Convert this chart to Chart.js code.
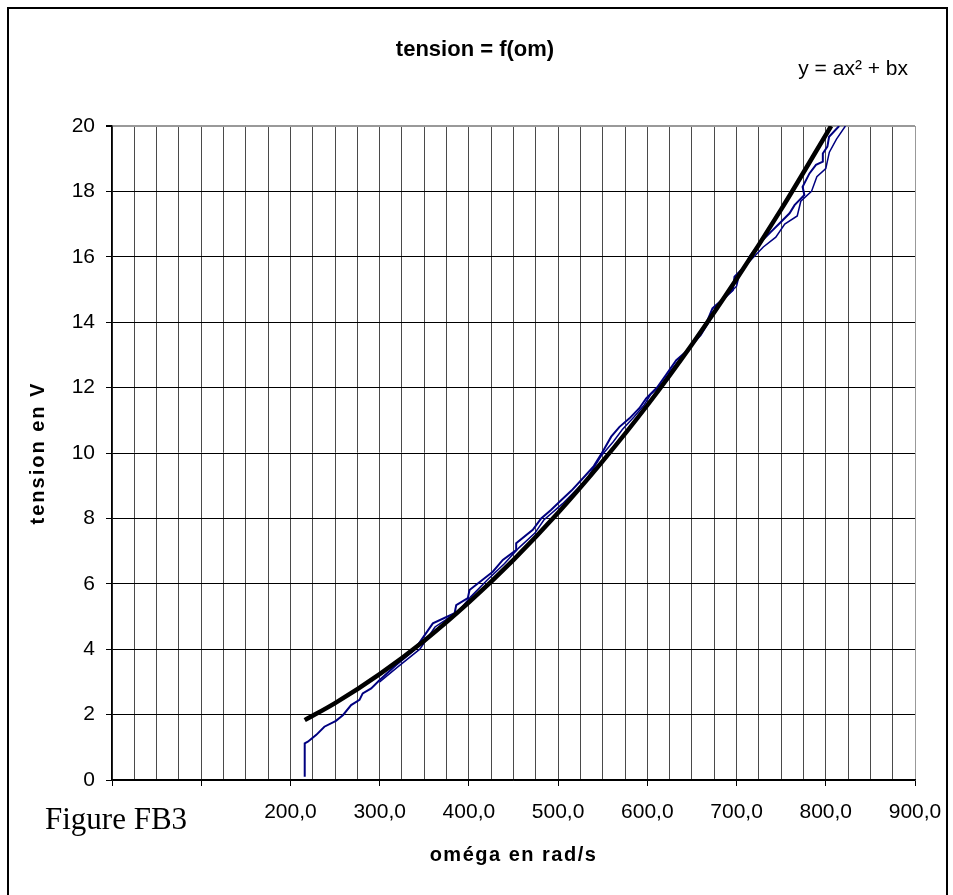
<!DOCTYPE html>
<html>
<head>
<meta charset="utf-8">
<script src="https://cdn.jsdelivr.net/npm/chart.js@4.4.0/dist/chart.umd.min.js"></script>
<style>
  html, body { margin: 0; padding: 0; background: #fff; }
  #wrap { width: 953px; height: 895px; }
</style>
</head>
<body>
<div id="wrap"><canvas id="tensionChart"></canvas></div>
<script>
// mesures (montée)
const omegaMesure = [216, 216, 219.5, 229, 238, 251, 259, 268, 277.4, 281, 290.5, 300, 318.5, 339, 359.6, 384, 385.8, 398.8, 400.7, 417.5, 426.8, 438, 453, 453, 471.6, 481, 492, 501.6, 515, 529.6, 540, 548, 559.5, 568.8, 580, 591, 598.7, 611.7, 621, 632.4, 643.6, 654.8, 666, 673, 695.8, 697.7, 710.8, 714.5, 725.7, 738.8, 748, 759.4, 765, 776, 774, 781.7, 789, 796.7, 796.7, 801.8, 803.7, 815];
const tensionMesure = [0.1, 1.12, 1.17, 1.38, 1.63, 1.81, 1.99, 2.29, 2.45, 2.65, 2.80, 3.06, 3.52, 3.98, 4.79, 5.10, 5.35, 5.56, 5.81, 6.17, 6.37, 6.73, 7.03, 7.24, 7.65, 8.0, 8.26, 8.51, 8.85, 9.28, 9.6, 9.95, 10.5, 10.8, 11.06, 11.37, 11.67, 12.03, 12.39, 12.84, 13.1, 13.46, 13.96, 14.42, 14.98, 15.39, 15.75, 16.0, 16.41, 16.77, 17.02, 17.33, 17.58, 17.89, 18.14, 18.55, 18.81, 18.91, 19.16, 19.37, 19.67, 20];

// mesures (second passage)
const omegaRetour = [300, 320, 345, 362, 388, 402, 420, 440, 456, 474, 484, 505, 532, 548, 562, 572, 585, 596, 604, 616, 626, 637, 648, 660, 670, 680, 700, 704, 716, 730, 744, 754, 768, 772, 784, 790, 800, 804, 812, 822];
const tensionRetour = [3.0, 3.45, 4.0, 4.68, 5.15, 5.6, 6.1, 6.62, 7.1, 7.55, 7.95, 8.45, 9.2, 9.9, 10.35, 10.72, 11.1, 11.45, 11.8, 12.1, 12.5, 12.9, 13.25, 13.6, 14.05, 14.55, 15.1, 15.55, 15.9, 16.3, 16.6, 17.0, 17.25, 17.7, 18.0, 18.45, 18.7, 19.2, 19.6, 20];

// courbe de tendance y = ax² + bx
const omegaCourbe = [216, 250, 300, 350, 400, 450, 500, 550, 600, 650, 700, 750, 806];
const tensionCourbe = [1.83, 2.35, 3.24, 4.26, 5.43, 6.73, 8.17, 9.75, 11.46, 13.32, 15.32, 17.45, 20.0];

const xLabelsFrom = 200;

function toPoints(xs, ys) {
  return xs.map((x, i) => ({ x: x, y: ys[i] }));
}

const decor = {
  id: 'decor',
  beforeDraw(chart) {
    const ctx = chart.ctx;
    ctx.save();
    ctx.fillStyle = '#fff';
    ctx.fillRect(0, 0, chart.width, chart.height);
    ctx.restore();
  },
  afterDraw(chart) {
    const ctx = chart.ctx;
    const area = chart.chartArea;
    ctx.save();
    ctx.strokeStyle = '#000';
    ctx.lineWidth = 2;
    ctx.strokeRect(8, 8, 939, 920);

    ctx.fillStyle = '#000';
    ctx.textAlign = 'center';
    ctx.textBaseline = 'middle';
    ctx.font = 'bold 22px "Liberation Sans", Arial, sans-serif';
    ctx.fillText('tension = f(om)', 475, 50);

    ctx.font = 'bold 20px "Liberation Sans", Arial, sans-serif';
    ctx.letterSpacing = '1.5px';
    ctx.fillText('oméga en rad/s', (area.left + area.right) / 2, 855);

    ctx.save();
    ctx.translate(38, (area.top + area.bottom) / 2);
    ctx.rotate(-Math.PI / 2);
    ctx.font = 'bold 20px "Liberation Sans", Arial, sans-serif';
    ctx.letterSpacing = '2px';
    ctx.fillText('tension en V', 0, 0);
    ctx.restore();

    ctx.letterSpacing = '0px';
    ctx.textAlign = 'right';
    ctx.textBaseline = 'alphabetic';
    ctx.font = '21px "Liberation Sans", Arial, sans-serif';
    ctx.fillText('y = ax² + bx', 908, 75);

    ctx.textAlign = 'left';
    ctx.font = '31px "Liberation Serif", "Times New Roman", serif';
    ctx.fillText('Figure FB3', 45, 829);
    ctx.restore();
  }
};

const ctx = document.getElementById('tensionChart').getContext('2d');
new Chart(ctx, {
  type: 'scatter',
  data: {
    datasets: [
      {
        data: toPoints(omegaMesure, tensionMesure),
        showLine: true,
        borderColor: '#000080',
        borderWidth: 2,
        pointRadius: 0,
        order: 3
      },
      {
        data: toPoints(omegaRetour, tensionRetour),
        showLine: true,
        borderColor: '#000080',
        borderWidth: 1.5,
        pointRadius: 0,
        order: 2
      },
      {
        data: toPoints(omegaCourbe, tensionCourbe),
        showLine: true,
        borderColor: '#000',
        borderWidth: 4.5,
        pointRadius: 0,
        cubicInterpolationMode: 'monotone',
        order: 1
      }
    ]
  },
  options: {
    responsive: true,
    maintainAspectRatio: false,
    animation: false,
    events: [],
    layout: { padding: { left: 0, top: 126, right: 38, bottom: 0 } },
    plugins: {
      legend: { display: false },
      tooltip: { enabled: false }
    },
    scales: {
      x: {
        type: 'linear',
        min: 0,
        max: 900,
        afterFit: function(scale) {
          scale.height = 115;
          scale.paddingLeft = 0;
          scale.paddingRight = 0;
        },
        ticks: {
          stepSize: 25,
          autoSkip: false,
          maxRotation: 0,
          padding: 14,
          color: '#000',
          font: { family: '"Liberation Sans", Arial, sans-serif', size: 21 },
          callback: function(v) {
            if (v % 100 !== 0 || v < xLabelsFrom) return '';
            return v.toFixed(1).replace('.', ',');
          }
        },
        grid: {
          color: function(c) { return c.tick && c.tick.value === 900 ? '#999' : '#4a4a4a'; },
          lineWidth: 1,
          tickLength: 6,
          tickColor: function(c) { return c.tick && c.tick.value % 100 === 0 ? '#000' : 'rgba(0,0,0,0)'; }
        },
        border: { color: '#000', width: 1.5 }
      },
      y: {
        min: 0,
        max: 20,
        afterFit: function(scale) { scale.width = 112; },
        ticks: {
          stepSize: 2,
          padding: 11,
          color: '#000',
          font: { family: '"Liberation Sans", Arial, sans-serif', size: 21 }
        },
        grid: {
          color: function(c) { return c.tick && c.tick.value === 20 ? '#999' : '#000'; },
          lineWidth: function(c) { return c.tick && c.tick.value === 20 ? 2 : 1; },
          tickLength: 6,
          tickColor: '#000'
        },
        border: { color: '#000', width: 1.5 }
      }
    }
  },
  plugins: [decor]
});
</script>
</body>
</html>
